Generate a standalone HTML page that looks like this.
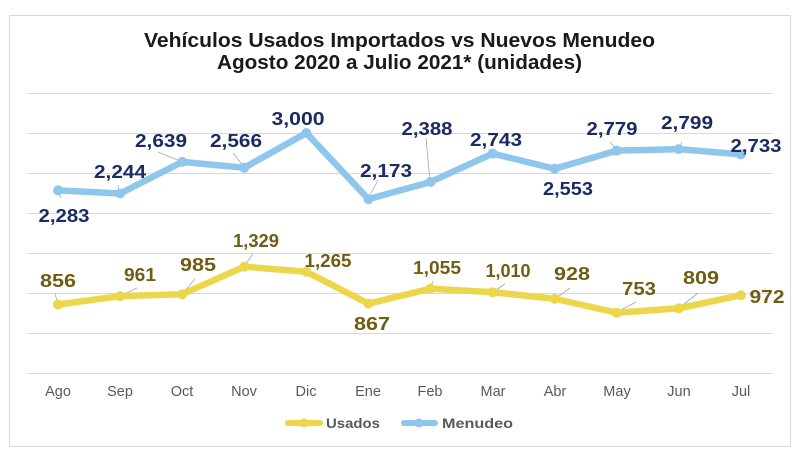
<!DOCTYPE html>
<html><head><meta charset="utf-8"><style>
html,body{margin:0;padding:0;background:#fff;}
svg{display:block;font-family:"Liberation Sans",sans-serif;}
</style></head><body>
<svg width="799" height="456" viewBox="0 0 799 456" xmlns="http://www.w3.org/2000/svg">
<rect x="0" y="0" width="799" height="456" fill="#fff"/>
<rect x="9.5" y="15.5" width="781" height="431" fill="#fff" stroke="#d9d9d9" stroke-width="1"/>
<g font-weight="bold" fill="#1a1a1a" font-size="20" text-anchor="middle">
<text x="399.5" y="47" textLength="511" lengthAdjust="spacingAndGlyphs">Vehículos Usados Importados  vs Nuevos Menudeo</text>
<text x="399.5" y="69" textLength="365" lengthAdjust="spacingAndGlyphs">Agosto 2020 a Julio 2021* (unidades)</text>
</g>
<g stroke="#d9d9d9" stroke-width="1">
<line x1="27" y1="93.5" x2="772" y2="93.5"/>
<line x1="27" y1="133.5" x2="772" y2="133.5"/>
<line x1="27" y1="173.5" x2="772" y2="173.5"/>
<line x1="27" y1="213.5" x2="772" y2="213.5"/>
<line x1="27" y1="253.5" x2="772" y2="253.5"/>
<line x1="27" y1="293.5" x2="772" y2="293.5"/>
<line x1="27" y1="333.5" x2="772" y2="333.5"/>
<line x1="27" y1="373.5" x2="772" y2="373.5"/>
</g>
<!-- leader lines -->
<g stroke="#a6a6a6" stroke-width="0.8">
<line x1="58" y1="192" x2="61" y2="198"/>
<line x1="118" y1="185" x2="119" y2="192"/>
<line x1="158" y1="152" x2="180" y2="161"/>
<line x1="233" y1="153" x2="244" y2="167"/>
<line x1="378" y1="180" x2="368" y2="199"/>
<line x1="426" y1="138" x2="430" y2="182"/>
<line x1="610" y1="142" x2="617" y2="150"/>
<line x1="682" y1="142" x2="679" y2="149"/>
<line x1="55" y1="294" x2="58" y2="304"/>
<line x1="137" y1="288" x2="120" y2="296"/>
<line x1="195" y1="279" x2="182" y2="294"/>
<line x1="253" y1="254" x2="244" y2="266"/>
<line x1="433" y1="281" x2="430" y2="288"/>
<line x1="505" y1="284" x2="493" y2="292"/>
<line x1="570" y1="288" x2="555" y2="299"/>
<line x1="636" y1="302" x2="617" y2="312"/>
<line x1="698" y1="293" x2="679" y2="308"/>
</g>
<!-- Menudeo -->
<polyline fill="none" stroke="#8fc6ec" stroke-width="6.5" stroke-linejoin="round" stroke-linecap="round"
points="58.04,190.36 120.12,193.48 182.2,161.88 244.28,167.72 306.36,133 368.44,199.16 430.52,181.96 492.6,153.56 554.68,168.76 616.76,150.68 678.84,149.08 740.92,154.36"/>
<g fill="#8fc6ec">
<circle cx="58.04" cy="190.36" r="5"/><circle cx="120.12" cy="193.48" r="5"/><circle cx="182.2" cy="161.88" r="5"/><circle cx="244.28" cy="167.72" r="5"/><circle cx="306.36" cy="133" r="5"/><circle cx="368.44" cy="199.16" r="5"/><circle cx="430.52" cy="181.96" r="5"/><circle cx="492.6" cy="153.56" r="5"/><circle cx="554.68" cy="168.76" r="5"/><circle cx="616.76" cy="150.68" r="5"/><circle cx="678.84" cy="149.08" r="5"/><circle cx="740.92" cy="154.36" r="5"/>
</g>
<!-- Usados -->
<polyline fill="none" stroke="#ecd64c" stroke-width="6.5" stroke-linejoin="round" stroke-linecap="round"
points="58.04,304.52 120.12,296.12 182.2,294.2 244.28,266.68 306.36,271.8 368.44,303.64 430.52,288.6 492.6,292.2 554.68,298.76 616.76,312.76 678.84,308.28 740.92,295.24"/>
<g fill="#ecd64c">
<circle cx="58.04" cy="304.52" r="5"/><circle cx="120.12" cy="296.12" r="5"/><circle cx="182.2" cy="294.2" r="5"/><circle cx="244.28" cy="266.68" r="5"/><circle cx="306.36" cy="271.8" r="5"/><circle cx="368.44" cy="303.64" r="5"/><circle cx="430.52" cy="288.6" r="5"/><circle cx="492.6" cy="292.2" r="5"/><circle cx="554.68" cy="298.76" r="5"/><circle cx="616.76" cy="312.76" r="5"/><circle cx="678.84" cy="308.28" r="5"/><circle cx="740.92" cy="295.24" r="5"/>
</g>
<!-- Menudeo labels -->
<g font-weight="bold" fill="#1b2b62" font-size="18" text-anchor="middle" lengthAdjust="spacingAndGlyphs">
<text x="64" y="222" textLength="51" lengthAdjust="spacingAndGlyphs">2,283</text>
<text x="120" y="178" textLength="52" lengthAdjust="spacingAndGlyphs">2,244</text>
<text x="161" y="147" textLength="52" lengthAdjust="spacingAndGlyphs">2,639</text>
<text x="236" y="147" textLength="52" lengthAdjust="spacingAndGlyphs">2,566</text>
<text x="298" y="125" textLength="53" lengthAdjust="spacingAndGlyphs">3,000</text>
<text x="386" y="177" textLength="52" lengthAdjust="spacingAndGlyphs">2,173</text>
<text x="427" y="135" textLength="51" lengthAdjust="spacingAndGlyphs">2,388</text>
<text x="496" y="146" textLength="52" lengthAdjust="spacingAndGlyphs">2,743</text>
<text x="568" y="195" textLength="50" lengthAdjust="spacingAndGlyphs">2,553</text>
<text x="612" y="135" textLength="51" lengthAdjust="spacingAndGlyphs">2,779</text>
<text x="687" y="129" textLength="52" lengthAdjust="spacingAndGlyphs">2,799</text>
<text x="756" y="152" textLength="51" lengthAdjust="spacingAndGlyphs">2,733</text>
</g>
<!-- Usados labels -->
<g font-weight="bold" fill="#705c12" font-size="18" text-anchor="middle">
<text x="58" y="287" textLength="36" lengthAdjust="spacingAndGlyphs">856</text>
<text x="140" y="281" textLength="32" lengthAdjust="spacingAndGlyphs">961</text>
<text x="198" y="271" textLength="36" lengthAdjust="spacingAndGlyphs">985</text>
<text x="256" y="247" textLength="46" lengthAdjust="spacingAndGlyphs">1,329</text>
<text x="328" y="267" textLength="47" lengthAdjust="spacingAndGlyphs">1,265</text>
<text x="372" y="330" textLength="36" lengthAdjust="spacingAndGlyphs">867</text>
<text x="437" y="274" textLength="48" lengthAdjust="spacingAndGlyphs">1,055</text>
<text x="508" y="277" textLength="45" lengthAdjust="spacingAndGlyphs">1,010</text>
<text x="572" y="280" textLength="36" lengthAdjust="spacingAndGlyphs">928</text>
<text x="639" y="295" textLength="34" lengthAdjust="spacingAndGlyphs">753</text>
<text x="701" y="284" textLength="36" lengthAdjust="spacingAndGlyphs">809</text>
<text x="767" y="303" textLength="35" lengthAdjust="spacingAndGlyphs">972</text>
</g>
<!-- X axis labels -->
<g fill="#595959" font-size="14.5" text-anchor="middle">
<text x="58" y="396">Ago</text>
<text x="120" y="396">Sep</text>
<text x="182" y="396">Oct</text>
<text x="244" y="396">Nov</text>
<text x="306" y="396">Dic</text>
<text x="368" y="396">Ene</text>
<text x="430" y="396">Feb</text>
<text x="493" y="396">Mar</text>
<text x="555" y="396">Abr</text>
<text x="617" y="396">May</text>
<text x="679" y="396">Jun</text>
<text x="741" y="396">Jul</text>
</g>
<!-- Legend -->
<line x1="288" y1="423" x2="320" y2="423" stroke="#ecd64c" stroke-width="6" stroke-linecap="round"/>
<circle cx="304" cy="423" r="4.5" fill="#ecd64c"/>
<text x="326" y="428" font-size="14" font-weight="bold" fill="#595959" textLength="54" lengthAdjust="spacingAndGlyphs">Usados</text>
<line x1="404" y1="423" x2="435" y2="423" stroke="#8fc6ec" stroke-width="6" stroke-linecap="round"/>
<circle cx="419" cy="423" r="4.5" fill="#8fc6ec"/>
<text x="442" y="428" font-size="14" font-weight="bold" fill="#595959" textLength="71" lengthAdjust="spacingAndGlyphs">Menudeo</text>
</svg>
</body></html>
